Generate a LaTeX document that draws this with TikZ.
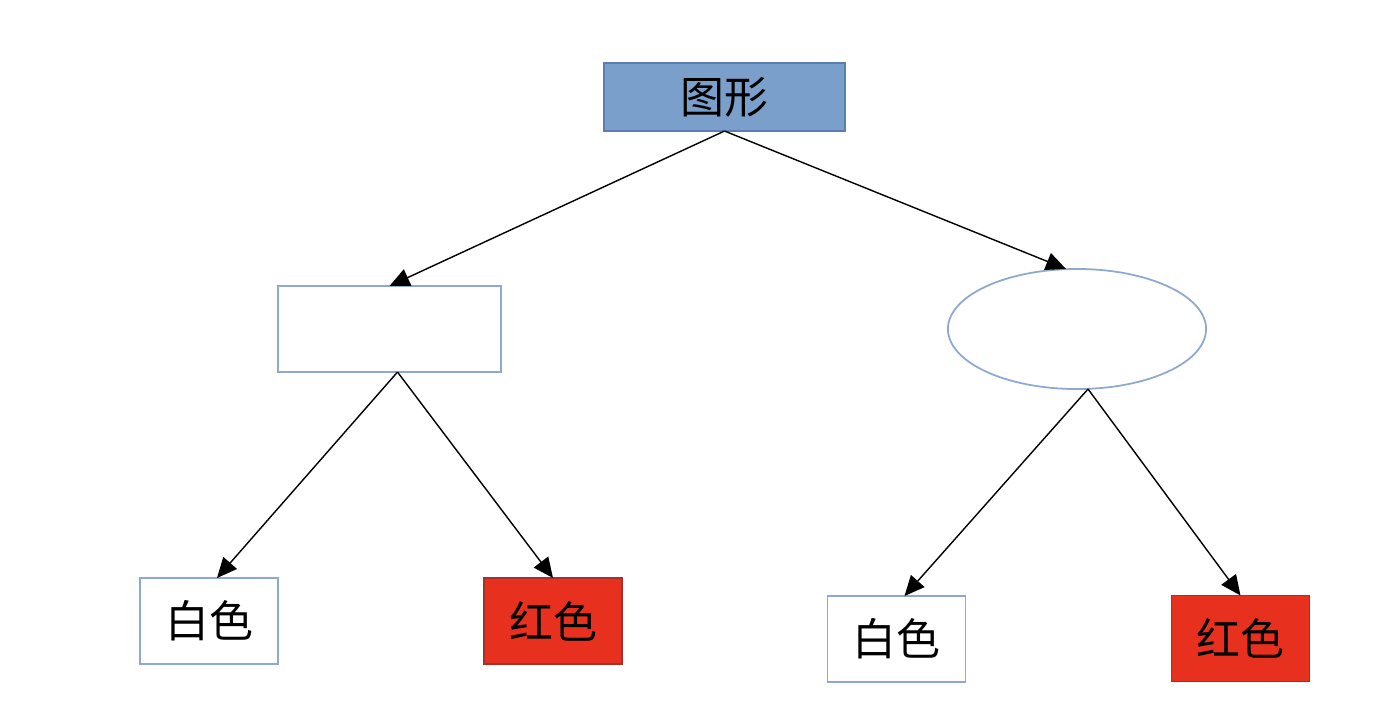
\documentclass[tikz,border=0pt]{standalone}
\usepackage{fontspec}
\newfontfamily\cjk{Noto Sans CJK SC}
\usetikzlibrary{arrows.meta,shapes.geometric}
\definecolor{topfill}{HTML}{7B9FCB}
\definecolor{topline}{HTML}{5B7DB1}
\definecolor{boxline}{HTML}{8FA8CF}
\definecolor{redfill}{HTML}{E8301F}
\definecolor{redline}{HTML}{A8302C}
\begin{document}
\begin{tikzpicture}[x=0.01cm,y=-0.01cm,
    box/.style={draw=boxline,line width=0.5pt,inner sep=0pt,outer sep=0pt,
      font=\cjk\fontsize{12.5}{14}\selectfont},
    wbox/.style={box,fill=white,minimum width=1.38cm,minimum height=0.86cm},
    rbox/.style={box,fill=redfill,draw=redline,minimum width=1.38cm,minimum height=0.86cm},
    arr/.style={line width=0.4pt,-{Triangle[length=2mm,width=1.8mm]}}]
  \useasboundingbox (0,0) rectangle (1400,724);
  \node[box,fill=topfill,draw=topline,minimum width=2.41cm,minimum height=0.68cm] (top) at (724.5,97) {图形};
  \node[box,minimum width=2.23cm,minimum height=0.86cm] (sq) at (389.5,329) {};
  \node[ellipse,draw=boxline,line width=0.5pt,inner sep=0pt,outer sep=0pt,
    minimum width=2.58cm,minimum height=1.2cm] (ell) at (1077,329) {};
  \foreach \n/\x/\y/\s/\t in {wa/209/621/wbox/白色,ra/553/621/rbox/红色,
      wb/896.5/639/wbox/白色,rb/1240.5/638.5/rbox/红色}{
    \node[\s] (\n) at (\x,\y) {\t};
  }
  \draw[arr] (top.south) -- (sq.north);
  \draw[arr] (top.south) -- ([xshift=-0.11cm]ell.north);
  \draw[arr] ([xshift=0.08cm]sq.south) -- ([xshift=0.08cm]wa.north);
  \draw[arr] ([xshift=0.08cm]sq.south) -- (ra.north);
  \draw[arr] ([xshift=0.11cm]ell.south) -- ([xshift=0.08cm]wb.north);
  \draw[arr] ([xshift=0.11cm]ell.south) -- (rb.north);
\end{tikzpicture}
\end{document}
